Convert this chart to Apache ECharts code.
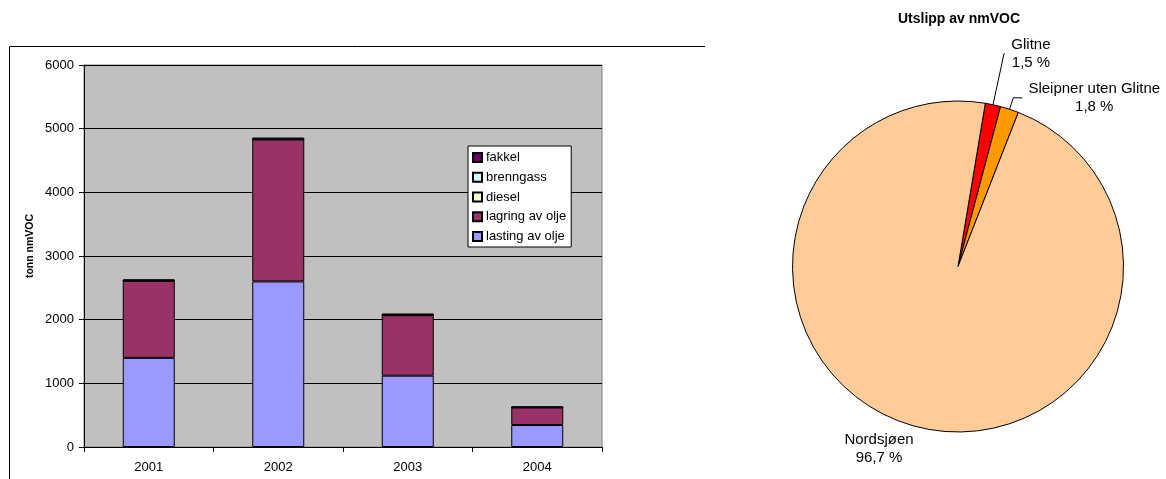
<!DOCTYPE html>
<html>
<head>
<meta charset="utf-8">
<script src="https://cdn.jsdelivr.net/npm/echarts@6/dist/echarts.min.js"></script>
<style>
  html, body { margin: 0; padding: 0; background: #fff; }
  #chart { width: 1166px; height: 479px; }
</style>
</head>
<body>
<div id="chart"></div>
<script>
// Years on the category axis
const years = ['2001', '2002', '2003', '2004'];

// nmVOC emissions per source, tonnes (stacked bottom to top)
const lastingAvOlje = [1400, 2600, 1120, 345];
const lagringAvOlje = [1210, 2230, 950, 275];
const diesel = [2, 2, 2, 1];
const brenngass = [3, 3, 3, 2];
const fakkel = [18, 25, 22, 14];

// Value axis ticks
const yTicks = [0, 1000, 2000, 3000, 4000, 5000, 6000];

// Share of nmVOC emissions by area, percent
const pieNames = ['Glitne', 'Sleipner uten Glitne', 'Nordsjøen'];
const pieValues = [1.5, 1.8, 96.7];
const pieLabels = ['1,5 %', '1,8 %', '96,7 %'];

const font = 'Liberation Sans, Arial, sans-serif';
const chart = echarts.init(document.getElementById('chart'), null, { renderer: 'canvas' });

function barSeries(name, data, color) {
  return {
    name: name,
    type: 'bar',
    stack: 'total',
    data: data,
    barWidth: 52,
    itemStyle: { color: color, borderColor: '#000', borderWidth: 1 },
    emphasis: { disabled: true },
    animation: false
  };
}

const pieColors = ['#FF0000', '#FF9900', '#FFCC99'];
// leader line lengths per slice: [radial, horizontal]
const pieLines = [[52, 1], [12, 9], [20, 0]];
// width of the centred text block per slice label
const pieLabelWidths = [44, 136, 76];

const richStyles = {};
pieLabelWidths.forEach(function (w, i) {
  richStyles['l' + i] = { width: w, align: 'center', fontFamily: font, fontSize: 15, color: '#000', lineHeight: 18 };
});

chart.setOption({
  animation: false,
  textStyle: { fontFamily: font, color: '#000' },
  title: {
    text: 'Utslipp av nmVOC',
    left: 954,
    top: 7,
    textAlign: 'center',
    textStyle: { fontFamily: font, fontSize: 14, fontWeight: 'bold', color: '#000' }
  },
  grid: {
    left: 84, top: 65, right: 564, bottom: 32,
    show: true,
    backgroundColor: '#C0C0C0',
    borderColor: '#808080',
    borderWidth: 1
  },
  legend: {
    orient: 'vertical',
    left: 468,
    top: 146,
    data: ['fakkel', 'brenngass', 'diesel', 'lagring av olje', 'lasting av olje'],
    backgroundColor: '#fff',
    borderColor: '#000',
    borderWidth: 1,
    padding: [4, 5, 3, 4],
    itemWidth: 9,
    itemHeight: 9,
    itemGap: 4.75,
    icon: 'rect',
    selectedMode: false,
    textStyle: { fontFamily: font, fontSize: 13, color: '#000', lineHeight: 15, padding: [0, 0, 0, -1] }
  },
  xAxis: {
    type: 'category',
    data: years,
    axisLine: { lineStyle: { color: '#000', width: 1 } },
    axisTick: { show: true, length: 5, inside: false, lineStyle: { color: '#000' } },
    axisLabel: { fontFamily: font, fontSize: 13, color: '#000', margin: 14 }
  },
  yAxis: {
    type: 'value',
    min: yTicks[0],
    max: yTicks[yTicks.length - 1],
    interval: yTicks[1] - yTicks[0],
    axisLine: { show: true, lineStyle: { color: '#000', width: 1 } },
    axisTick: { show: true, length: 5, lineStyle: { color: '#000' } },
    axisLabel: {
      fontFamily: font, fontSize: 13, color: '#000', margin: 10,
      formatter: function (v) { return String(v); }
    },
    splitLine: { show: true, lineStyle: { color: '#000', width: 1 } }
  },
  series: [
    barSeries('lasting av olje', lastingAvOlje, '#9999FF'),
    barSeries('lagring av olje', lagringAvOlje, '#993366'),
    barSeries('diesel', diesel, '#FFFFCC'),
    barSeries('brenngass', brenngass, '#CCFFFF'),
    barSeries('fakkel', fakkel, '#660066'),
    {
      type: 'pie',
      center: [958, 266.5],
      radius: 165.5,
      startAngle: 80.5,
      clockwise: true,
      avoidLabelOverlap: false,
      bleedMargin: 0,
      emphasis: { disabled: true },
      itemStyle: { borderColor: '#000', borderWidth: 1 },
      label: {
        show: true,
        position: 'outside',
        overflow: 'none',
        distanceToLabelLine: 4,
        fontFamily: font,
        fontSize: 15,
        color: '#000',
        lineHeight: 18,
        formatter: function (p) {
          const k = 'l' + p.dataIndex;
          return '{' + k + '|' + p.name + '}\n{' + k + '|' + pieLabels[p.dataIndex] + '}';
        },
        rich: richStyles
      },
      labelLine: { show: true, lineStyle: { color: '#000', width: 1 } },
      labelLayout: function (p) {
        // the large slice carries its label below the pie without a leader line
        if (p.dataIndex === 2) {
          return { x: 879, y: 431, align: 'center', verticalAlign: 'top' };
        }
      },
      data: pieNames.map(function (n, i) {
        return {
          name: n,
          value: pieValues[i],
          itemStyle: { color: pieColors[i] },
          labelLine: { show: i !== 2, length: pieLines[i][0], length2: pieLines[i][1] }
        };
      })
    }
  ],
  graphic: [
    {
      type: 'polyline',
      shape: { points: [[9.5, 479], [9.5, 46.5], [705, 46.5]] },
      style: { stroke: '#000', lineWidth: 1, fill: null },
      silent: true
    },
    {
      type: 'text',
      x: 30,
      y: 246,
      rotation: Math.PI / 2,
      silent: true,
      style: {
        text: 'tonn nmVOC',
        font: 'bold 10.5px Liberation Sans, Arial, sans-serif',
        fill: '#000',
        textAlign: 'center',
        textVerticalAlign: 'middle'
      }
    }
  ]
});
</script>
</body>
</html>
